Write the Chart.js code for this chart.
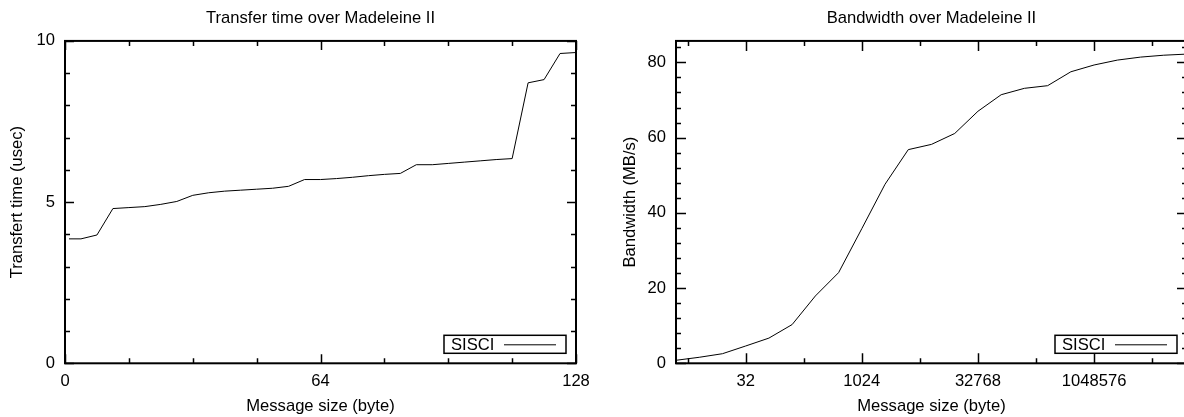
<!DOCTYPE html>
<html><head><meta charset="utf-8">
<script src="https://cdn.jsdelivr.net/npm/chart.js@4.4.1/dist/chart.umd.min.js"></script>
<style>
html,body{margin:0;padding:0;background:#fff;overflow:hidden;width:1184px;height:417px;position:relative;}
#c1{position:absolute;left:0;top:0;}
#c2{position:absolute;left:600px;top:0;}
</style></head><body>
<canvas id="c1" width="641" height="417"></canvas>
<canvas id="c2" width="663" height="417"></canvas>
<script>
// ---------- data ----------
const seriesName = 'SISCI';

const leftTitle = 'Transfer time over Madeleine II';
const leftXTitle = 'Message size (byte)';
const leftYTitle = 'Transfert time (usec)';
const leftSizes = [1,4,8,12,16,20,24,28,32,36,40,44,48,52,56,60,64,68,72,76,80,84,88,92,96,100,104,108,112,116,120,124,128];
const leftTimes = [3.86,3.86,3.98,4.80,4.83,4.86,4.93,5.02,5.21,5.29,5.34,5.37,5.40,5.43,5.49,5.70,5.70,5.73,5.77,5.82,5.86,5.89,6.16,6.16,6.20,6.24,6.28,6.32,6.35,8.70,8.80,9.61,9.64];
const leftXLabelTicks = [0,64,128];
const leftXMarks = [0,16,32,48,64,80,96,112,128];
const leftYLabelTicks = [0,5,10];
const leftYMarks = [0,1,2,3,4,5,6,7,8,9,10];

const rightTitle = 'Bandwidth over Madeleine II';
const rightXTitle = 'Message size (byte)';
const rightYTitle = 'Bandwidth (MB/s)';
const rightSizes = [4,8,16,32,64,128,256,512,1024,2048,4096,8192,16384,32768,65536,131072,262144,524288,1048576,2097152,4194304,8388608,16777216];
const rightBandwidth = [0.8,1.6,2.55,4.6,6.7,10.3,17.9,24.1,35.8,47.6,56.8,58.2,61.1,67.0,71.4,73.1,73.8,77.5,79.3,80.6,81.4,81.9,82.2];
const rightXLabelTicks = [32,1024,32768,1048576];
const rightXTickLabels = ['32','1024','32768','1048576'];
const rightXMinorExp = [2.5,7.5,12.5,17.5,22.5];
const rightYLabelTicks = [0,20,40,60,80];
const rightYMarks = [0,4,8,12,16,20,24,28,32,36,40,44,48,52,56,60,64,68,72,76,80,84];

// ---------- setup ----------
const FONT = '"Liberation Sans", Arial, Helvetica, sans-serif';
const FS = 16.6;
Chart.defaults.font.family = FONT;
Chart.defaults.font.size = FS;
Chart.defaults.color = '#000';

const frame = {
  id: 'frame',
  afterDraw(chart, args, o) {
    const {ctx, chartArea: a, scales} = chart;
    const xs = scales.x, ys = scales.y;
    ctx.save();
    ctx.strokeStyle = '#000';
    ctx.lineWidth = 1.5;
    o.xMarks.forEach(t => {
      const px = Math.round(xs.getPixelForValue(t.v)) + 0.5;
      const L = t.major ? o.major : o.minor;
      ctx.beginPath();
      ctx.moveTo(px, a.bottom); ctx.lineTo(px, a.bottom - L);
      ctx.moveTo(px, a.top); ctx.lineTo(px, a.top + L);
      ctx.stroke();
    });
    o.yMarks.forEach(t => {
      const py = Math.round(ys.getPixelForValue(t.v)) + 0.5;
      const L = t.major ? o.major : o.minor;
      ctx.beginPath();
      ctx.moveTo(a.left, py); ctx.lineTo(a.left + L, py);
      ctx.moveTo(a.right, py); ctx.lineTo(a.right - L, py);
      ctx.stroke();
    });
    ctx.lineWidth = 2;
    ctx.strokeRect(a.left, a.top, a.right - a.left, a.bottom - a.top);
    // legend box
    const bw = 122, bh = 18;
    const bx = o.legendRight - bw, by = a.bottom - 10 - bh;
    ctx.lineWidth = 1.5;
    ctx.strokeRect(bx, by, bw, bh);
    ctx.fillStyle = '#000';
    ctx.font = FS + 'px ' + FONT;
    ctx.textBaseline = 'middle';
    ctx.textAlign = 'left';
    ctx.fillText(chart.data.datasets[0].label, bx + 7, by + bh / 2 + 1);
    ctx.lineWidth = 1;
    ctx.beginPath();
    ctx.moveTo(bx + 60, by + bh / 2 + 0.5); ctx.lineTo(bx + 112, by + bh / 2 + 0.5);
    ctx.stroke();
    ctx.restore();
  }
};

function makeChart(el, cfg) {
  return new Chart(document.getElementById(el), {
    type: 'line',
    data: {
      datasets: [{
        label: seriesName,
        data: cfg.xs.map((x, i) => ({x: x, y: cfg.ys[i]})),
        borderColor: '#000', borderWidth: 1, pointRadius: 0, tension: 0, fill: false
      }]
    },
    options: {
      responsive: false, animation: false, events: [],
      layout: {padding: {left: 0, right: cfg.padRight, top: 0, bottom: 0}},
      plugins: {
        legend: {display: false}, tooltip: {enabled: false},
        title: {display: true, fullSize: false, text: cfg.title, color: '#000',
          font: {size: FS, weight: 'normal'}, padding: {top: 8, bottom: 13}},
        frame: cfg.frame
      },
      scales: {
        x: {
          type: cfg.xType, min: cfg.xMin, max: cfg.xMax,
          grid: {display: false, drawTicks: false}, border: {display: false},
          afterBuildTicks: s => { s.ticks = cfg.xLabelTicks.map(v => ({value: v})); },
          afterFit: s => { s.height = 53.7; },
          ticks: {autoSkip: false, maxRotation: 0, padding: 8, color: '#000',
            callback: cfg.xCallback},
          title: {display: true, text: cfg.xTitle, color: '#000', padding: {top: 0, bottom: 0.5}}
        },
        y: {
          type: 'linear', min: 0, max: cfg.yMax,
          grid: {display: false, drawTicks: false}, border: {display: false},
          afterBuildTicks: s => { s.ticks = cfg.yLabelTicks.map(v => ({value: v})); },
          afterFit: s => { s.width = cfg.yWidth; },
          ticks: {autoSkip: false, padding: 10, color: '#000'},
          title: {display: true, text: cfg.yTitle, color: '#000', padding: {top: cfg.yTitlePad, bottom: 0}}
        }
      }
    },
    plugins: [frame]
  });
}

makeChart('c1', {
  xs: leftSizes, ys: leftTimes, title: leftTitle, xTitle: leftXTitle, yTitle: leftYTitle,
  xType: 'linear', xMin: 0, xMax: 128, yMax: 10, padRight: 65, yWidth: 65, yTitlePad: 7.5,
  xLabelTicks: leftXLabelTicks, yLabelTicks: leftYLabelTicks,
  xCallback: v => String(v),
  frame: {
    major: 9, minor: 5, legendRight: 576 - 10,
    xMarks: leftXMarks.map(v => ({v: v, major: leftXLabelTicks.includes(v)})),
    yMarks: leftYMarks.map(v => ({v: v, major: leftYLabelTicks.includes(v)}))
  }
});

makeChart('c2', {
  xs: rightSizes, ys: rightBandwidth, title: rightTitle, xTitle: rightXTitle, yTitle: rightYTitle,
  xType: 'logarithmic', xMin: 4, xMax: 16777216, yMax: 85.7, padRight: 76, yWidth: 76, yTitlePad: 20,
  xLabelTicks: rightXLabelTicks, yLabelTicks: rightYLabelTicks,
  xCallback: v => { const i = rightXLabelTicks.indexOf(v); return i >= 0 ? rightXTickLabels[i] : ''; },
  frame: {
    major: 10, minor: 5, legendRight: 587 - 10,
    xMarks: rightXLabelTicks.map(v => ({v: v, major: true}))
      .concat(rightXMinorExp.map(e => ({v: Math.pow(2, e), major: false}))),
    yMarks: rightYMarks.map(v => ({v: v, major: rightYLabelTicks.includes(v)}))
  }
});
</script>
</body></html>
